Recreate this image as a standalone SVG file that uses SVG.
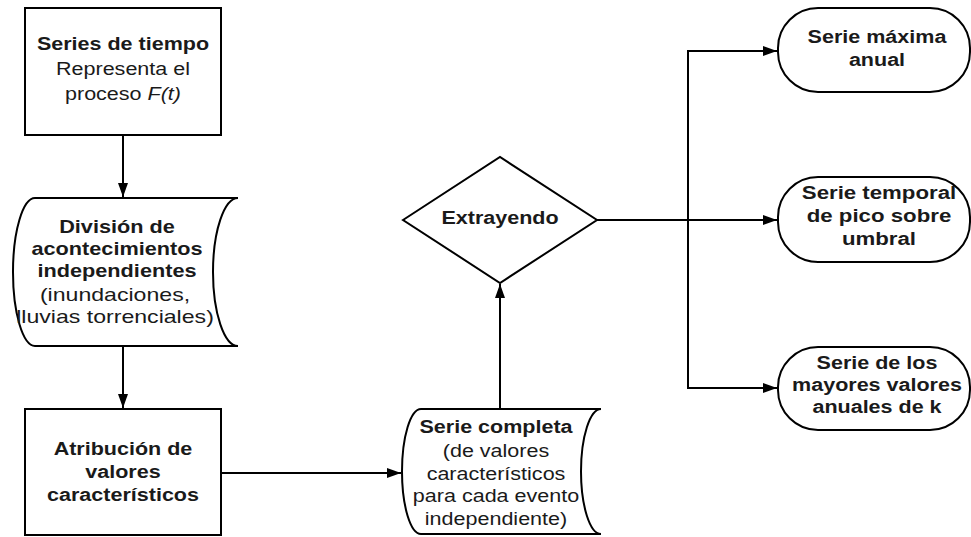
<svg xmlns="http://www.w3.org/2000/svg" width="971" height="537" viewBox="0 0 971 537">
<style>
.s{fill:#fff;stroke:#000;stroke-width:2}
.c{fill:none;stroke:#000;stroke-width:2}
text{font-family:"Liberation Sans",Arial,sans-serif;font-size:17.5px;fill:#1a1a1a;text-anchor:middle}
.b{font-weight:bold}
</style>
<defs>
<marker id="ah" markerUnits="userSpaceOnUse" markerWidth="14" markerHeight="12" refX="14" refY="6" orient="auto">
<path d="M0,1 L14,6 L0,11 z" fill="#000"/>
</marker>
</defs>
<rect width="971" height="537" fill="#fff"/>
<g id="connectors">
<path class="c" d="M123,135 V197" marker-end="url(#ah)"/>
<path class="c" d="M123,346 V408" marker-end="url(#ah)"/>
<path class="c" d="M221,473 H401" marker-end="url(#ah)"/>
<path class="c" d="M500,409 V284" marker-end="url(#ah)"/>
<path class="c" d="M597,220 H777" marker-end="url(#ah)"/>
<path class="c" d="M688,220 V51 H777" marker-end="url(#ah)"/>
<path class="c" d="M688,220 V388 H777" marker-end="url(#ah)"/>
</g>
<g id="series-tiempo">
<rect class="s" x="25" y="8" width="196" height="127"/>
<g transform="translate(123 0) scale(1.23 1)">
<text x="0" y="50" class="b">Series de tiempo</text>
<text x="0" y="75">Representa el</text>
<text x="0" y="100">proceso <tspan font-style="italic">F(t)</tspan></text>
</g>
</g>
<g id="division">
<path class="s" d="M35,198 H238 A25,74 0 0,0 238,346 H35 A22,74 0 0,1 35,198 Z"/>
<g transform="translate(117 0) scale(1.24 1)">
<text x="0" y="233" class="b">División de</text>
<text x="0" y="255" class="b">acontecimientos</text>
<text x="0" y="277" class="b">independientes</text>
</g>
<g transform="translate(115 0) scale(1.32 1)">
<text x="0" y="301">(inundaciones,</text>
<text x="0" y="323">lluvias torrenciales)</text>
</g>
</g>
<g id="atribucion">
<rect class="s" x="25" y="409" width="196" height="126"/>
<g transform="translate(123 0) scale(1.23 1)">
<text x="0" y="455" class="b">Atribución de</text>
<text x="0" y="478" class="b">valores</text>
<text x="0" y="501" class="b">característicos</text>
</g>
</g>
<g id="serie-completa">
<path class="s" d="M421,409 H601 A20,62.5 0 0,0 601,534 H421 A19,62.5 0 0,1 421,409 Z"/>
<g transform="translate(496 0) scale(1.23 1)">
<text x="0" y="433" class="b">Serie completa</text>
<text x="0" y="457">(de valores</text>
<text x="0" y="480">característicos</text>
<text x="0" y="502">para cada evento</text>
<text x="0" y="525">independiente)</text>
</g>
</g>
<g id="extrayendo">
<path class="s" d="M403,220 L500,157 L597,220 L500,283 Z"/>
<g transform="translate(500 0) scale(1.23 1)">
<text x="0" y="224" class="b">Extrayendo</text>
</g>
</g>
<g id="serie-maxima">
<rect class="s" x="778" y="8" width="192" height="84" rx="40" ry="40"/>
<g transform="translate(877 0) scale(1.23 1)">
<text x="0" y="43" class="b">Serie máxima</text>
<text x="0" y="66" class="b">anual</text>
</g>
</g>
<g id="serie-temporal">
<rect class="s" x="778" y="177" width="192" height="85" rx="40" ry="40"/>
<g transform="translate(879 0) scale(1.27 1)">
<text x="0" y="199" class="b">Serie temporal</text>
<text x="0" y="222" class="b">de pico sobre</text>
<text x="0" y="245" class="b">umbral</text>
</g>
</g>
<g id="serie-mayores">
<rect class="s" x="778" y="347" width="192" height="83" rx="40" ry="40"/>
<g transform="translate(877 0) scale(1.23 1)">
<text x="0" y="369" class="b">Serie de los</text>
<text x="0" y="391" class="b">mayores valores</text>
<text x="0" y="413" class="b">anuales de k</text>
</g>
</g>
</svg>
